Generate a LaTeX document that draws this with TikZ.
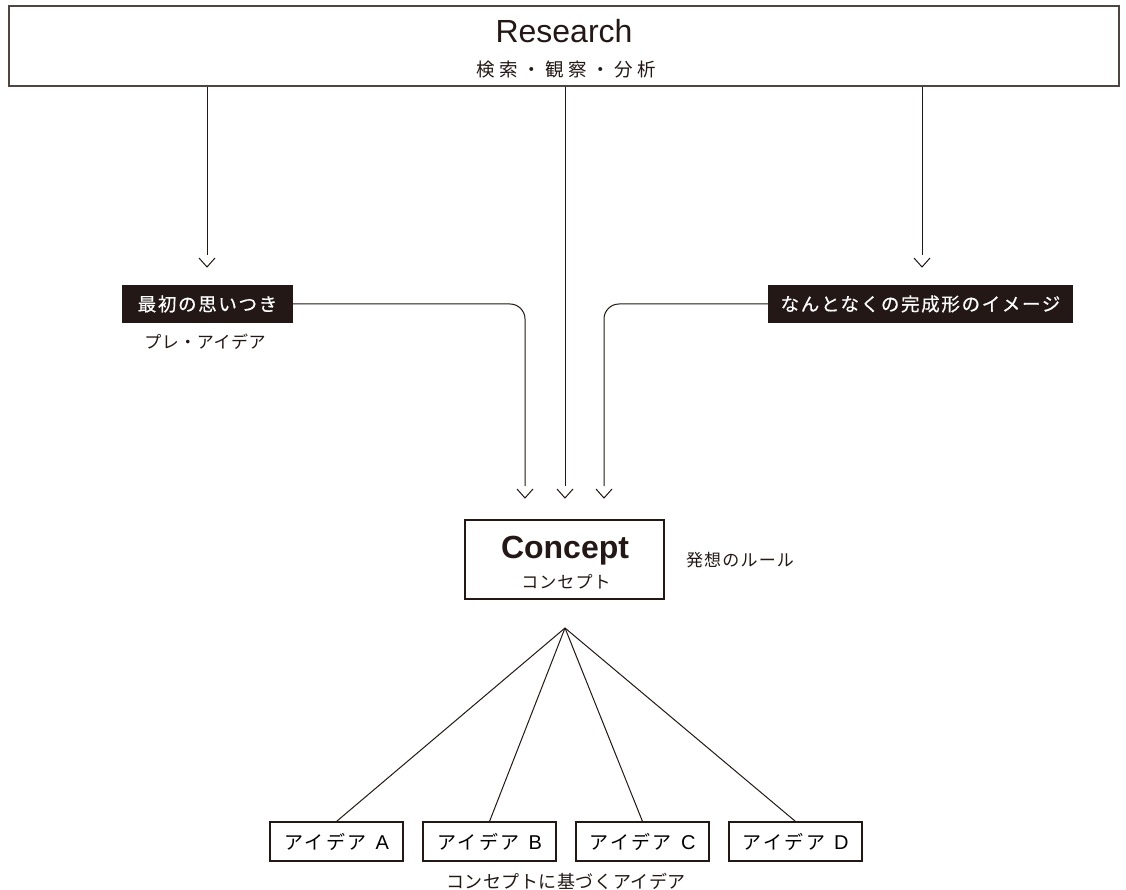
\documentclass[tikz,border=0pt]{standalone}
\usepackage{fontspec}
\setmainfont{Liberation Sans}
\newfontfamily\jp{Noto Sans CJK JP}
\usetikzlibrary{calc}
\definecolor{ink}{HTML}{231815}
\newcommand{\jpt}[2]{\jp\addfontfeature{LetterSpace=#2}\fontsize{#1}{#1}\selectfont}
\newcommand{\idealabel}[1]{\jpt{19}{13}アイデア\hspace{9pt}{\rmfamily\fontsize{20}{20}\selectfont #1}}
\tikzset{
  conn/.style={draw=ink, line width=1pt},
  stem/.style={conn, shorten >=12pt},
  chev/.style={conn, line join=miter},
  blacklabel/.style={fill=ink, text=white, inner sep=0pt, minimum height=38pt, anchor=center},
  whitebox/.style={draw=ink, line width=1.1pt, fill=white, inner sep=0pt, anchor=center, minimum width=133pt, minimum height=39pt},
  plain/.style={text=ink, inner sep=0pt, anchor=center},
}
\begin{document}
\begin{tikzpicture}[x=1pt,y=-1pt]
\useasboundingbox[fill=white] (0,0) rectangle (1126,890);

% Research box
\node[draw=ink!80, line width=1.8pt, minimum width=1110pt, minimum height=80pt, inner sep=0pt] (research) at (564,46) {};
\node[plain, anchor=base, text=ink] (restitle) at (564,43) {\fontsize{32}{32}\selectfont Research};
\node[plain] (ressub) at (566,70) {\jpt{18.5}{24}検索・観察・分析};

% arrow tips
\coordinate (tL) at (207,267);
\coordinate (tR) at (922,267);
\coordinate (t1) at (525,498);
\coordinate (t2) at (565,498);
\coordinate (t3) at (604,498);

% labels
\node[blacklabel, minimum width=171pt] (pre) at (207.5,304) {\jpt{18.5}{9}\addfontfeature{FakeBold=0.6}最初の思いつき};
\node[plain] (presub) at (205,342) {\jpt{17}{3}プレ・アイデア};
\node[blacklabel, minimum width=305pt] (img) at (920.5,304) {\jpt{18.5}{9}\addfontfeature{FakeBold=0.6}なんとなくの完成形のイメージ};

% concept
\node[draw=ink, line width=1.1pt, inner sep=0pt, minimum width=199pt, minimum height=79pt] (concept) at (564.5,559.5) {};
\node[plain, anchor=base] (ctitle) at (565,558) {\fontsize{32}{32}\selectfont\bfseries Concept};
\node[plain] (csub) at (566,582) {\jpt{17}{6}コンセプト};
\node[plain] (rule) at (740,560) {\jpt{17}{7}発想のルール};

% stems
\draw[stem] (research.south -| tL) -- (tL);
\draw[stem] (research.south -| tR) -- (tR);
\draw[stem] (research.south -| t2) -- (t2);
\draw[stem, rounded corners=15pt] (pre.east) -| (t1);
\draw[stem, rounded corners=15pt] (img.west) -| (t3);

% chevrons
\foreach \t in {tL,tR,t1,t2,t3}{
  \draw[chev] ($(\t)+(-8,-9)$) -- (\t) -- ($(\t)+(8,-9)$);
}

% ideas
\coordinate (apex) at (565,628);
\node[whitebox] (ia) at (336.5,841.5) {\idealabel{A}};
\node[whitebox] (ib) at (489.5,841.5) {\idealabel{B}};
\node[whitebox] (ic) at (642.5,841.5) {\idealabel{C}};
\node[whitebox] (id) at (795.5,841.5) {\idealabel{D}};
\foreach \n in {ia,ib,ic,id}{
  \draw[conn] (apex) -- (\n.north);
}
\node[plain] (cap) at (566,881) {\jpt{18}{3}コンセプトに基づくアイデア};
\end{tikzpicture}
\end{document}
